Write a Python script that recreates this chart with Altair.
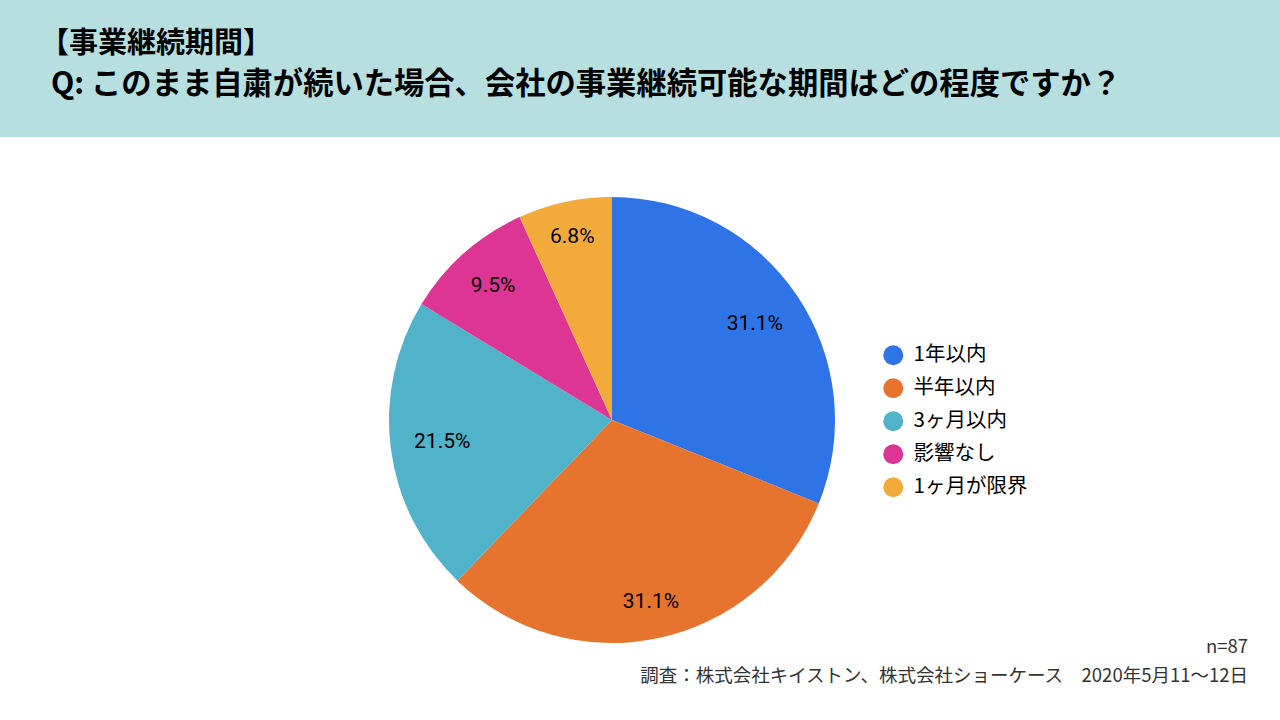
import altair as alt
import pandas as pd

categories = ["1年以内", "半年以内", "3ヶ月以内", "影響なし", "1ヶ月が限界"]
values = [31.1, 31.1, 21.5, 9.5, 6.8]
colors = ["#2f74e6", "#e6732e", "#51b3c9", "#dc3593", "#f2aa3b"]

title_lines = ["【事業継続期間】", "Q: このまま自粛が続いた場合、会社の事業継続可能な期間はどの程度ですか？"]
footer_lines = ["n=87", "調査：株式会社キイストン、株式会社ショーケース　2020年5月11〜12日"]

JP = "Noto Sans CJK JP"

df = pd.DataFrame({"cat": categories, "value": values, "order": list(range(len(categories)))})

header = alt.Chart(pd.DataFrame({"a": [0]})).mark_rect(color="#b8dfdf").encode(
    x=alt.value(0), x2=alt.value(1280), y=alt.value(0), y2=alt.value(137)
)

t1 = alt.Chart(pd.DataFrame({"t": [title_lines[0]]})).mark_text(
    font=JP, fontSize=29, fontWeight="bold", color="#000000", align="left", baseline="middle"
).encode(x=alt.value(40), y=alt.value(44), text="t:N")

t2 = alt.Chart(pd.DataFrame({"t": [title_lines[1]]})).mark_text(
    font=JP, fontSize=30.3, fontWeight="bold", color="#000000", align="left", baseline="middle"
).encode(x=alt.value(51), y=alt.value(85), text="t:N")

f1 = alt.Chart(pd.DataFrame({"t": [footer_lines[0]]})).mark_text(
    font=JP, fontSize=18.5, color="#333333", align="right", baseline="middle"
).encode(x=alt.value(1248), y=alt.value(647), text="t:N")

f2 = alt.Chart(pd.DataFrame({"t": [footer_lines[1]]})).mark_text(
    font=JP, fontSize=18.5, color="#333333", align="right", baseline="middle"
).encode(x=alt.value(1248), y=alt.value(676), text="t:N")

pie = alt.Chart(df).mark_arc(outerRadius=223).encode(
    theta=alt.Theta("value:Q", stack=True),
    order=alt.Order("order:Q"),
    x=alt.value(612), y=alt.value(420),
    color=alt.Color(
        "cat:N",
        scale=alt.Scale(domain=categories, range=colors),
        sort=categories,
        legend=alt.Legend(
            orient="none", legendX=883, legendY=345, title=None,
            symbolType="circle", symbolSize=400, symbolStrokeWidth=0,
            labelFontSize=20.5, labelFont=JP, labelColor="#000000",
            labelOffset=10, rowPadding=12,
        ),
    ),
)

# label placement: mid-angle of each slice, outer edge of the label box ~200px from centre
labels = alt.Chart(df).mark_text(font="Roboto", fontSize=21, color="#000000").encode(
    x=alt.value(612), y=alt.value(420),
    theta=alt.Theta("mid:Q", scale=None, stack=False),
    radius=alt.Radius("r:Q", scale=None),
    text="label:N",
).transform_calculate(
    label="format(datum.value, '.1f') + '%'"
).transform_joinaggregate(
    total="sum(value)"
).transform_window(
    cum="sum(value)", sort=[alt.SortField("order")], frame=[None, 0]
).transform_calculate(
    mid="(datum.cum - datum.value / 2) / datum.total * 2 * PI"
).transform_calculate(
    r="200 - (length(datum.label) * 5.6 * abs(sin(datum.mid)) + 8 * abs(cos(datum.mid)))"
)

chart = alt.layer(header, t1, t2, pie, labels, f1, f2).properties(
    width=1280, height=720,
    autosize=alt.AutoSizeParams(type="none"),
    padding=0,
    background="#ffffff",
).configure_view(stroke=None)

chart.save("out.html", embed_options={"renderer": "svg", "actions": False})
